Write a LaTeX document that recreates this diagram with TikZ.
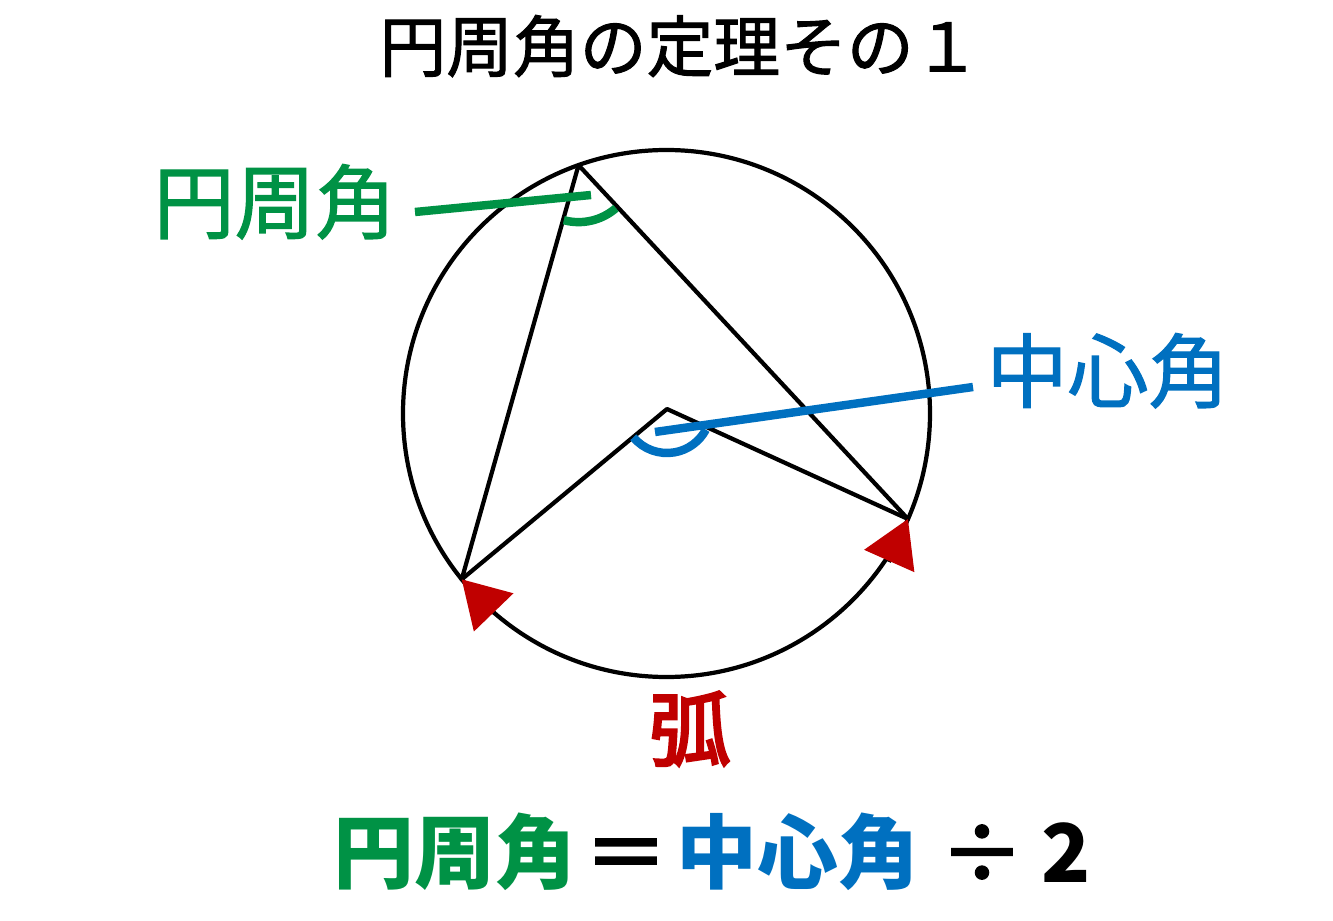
\documentclass[tikz,border=0pt]{standalone}
\usepackage{fontspec}
\newfontfamily\jp{Noto Sans CJK JP}
\newfontfamily\jpm{Noto Sans CJK JP}[FakeBold=1.5]
\newfontfamily\jpb{Noto Sans CJK JP}[FakeBold=3.5]
\usetikzlibrary{arrows.meta,calc}
\definecolor{inscgreen}{HTML}{009245}
\definecolor{centblue}{HTML}{0070C0}
\definecolor{arcred}{HTML}{C00000}
\tikzset{
  edge/.style={line width=1.2pt, line cap=round, line join=round},
  anglearc/.style={line width=2.4pt},
  leader/.style={line width=2.4pt},
  arctip/.style={line width=1.2pt, -{Triangle[length=4.6mm,width=5.4mm,color=arcred]}},
  jtext/.style={inner sep=0pt, text height=0.88em, text depth=0.12em},
  biglbl/.style={jtext, font=\jpm\fontsize{23}{23}\selectfont},
  boldlbl/.style={jtext, font=\jpb\fontsize{23}{23}\selectfont},
  heavylbl/.style={jtext, font=\jp\bfseries\fontsize{23}{23}\selectfont},
}
\begin{document}
\begin{tikzpicture}
  \useasboundingbox (0,0) rectangle (13.33,9.2);

  \node (title) at (6.80,8.62) [jtext, font=\jpm\fontsize{19}{19}\selectfont] {円周角の定理その１};

  \coordinate (c) at (6.665,5.065);
  \draw[edge] (c) circle [radius=2.635];

  \coordinate (A) at ($(c)+(109.5:2.635)$);
  \coordinate (B) at ($(c)+(219:2.635)$);
  \coordinate (C) at ($(c)+(336.4:2.635)$);
  \coordinate (O) at (6.67,5.11);

  \draw[edge] (B) -- (A) -- (C);
  \draw[edge] (B) -- (O) -- (C);

  % arrow heads at both ends of the arc
  \coordinate (Bt) at ($(B)+(314:0.47)$);
  \coordinate (Ct) at ($(C)+(246:0.47)$);
  \draw[arctip] (Bt) -- (B);
  \draw[arctip] (Ct) -- (C);

  \draw[anglearc, inscgreen] (A) ++(255:0.57) arc [start angle=255, end angle=311, radius=0.57];
  \draw[anglearc, centblue] (O) ++(220:0.44) arc [start angle=220, end angle=332, radius=0.44];

  \node (insc) at (2.75,7.01) [biglbl, text=inscgreen] {円周角};
  \coordinate (insc1) at (4.15,7.08);
  \coordinate (insc2) at (5.91,7.25);
  \draw[leader, inscgreen] (insc1) -- (insc2);

  \node (cent) at (11.08,5.32) [biglbl, text=centblue] {中心角};
  \coordinate (cent1) at (6.55,4.88);
  \coordinate (cent2) at (9.73,5.33);
  \draw[leader, centblue] (cent1) -- (cent2);

  \node (arc) at (6.90,1.74) [boldlbl, text=arcred] {弧};

  \node (f1) at (4.55,0.51) [heavylbl, text=inscgreen] {円周角};
  \node (f2) at (6.26,0.51) [boldlbl] {＝};
  \node (f3) at (7.98,0.51) [heavylbl, text=centblue] {中心角};
  \node (f4) at (9.82,0.51) [boldlbl] {÷};
  \node (f5) at (10.66,0.51) [heavylbl] {2};
\end{tikzpicture}
\end{document}
